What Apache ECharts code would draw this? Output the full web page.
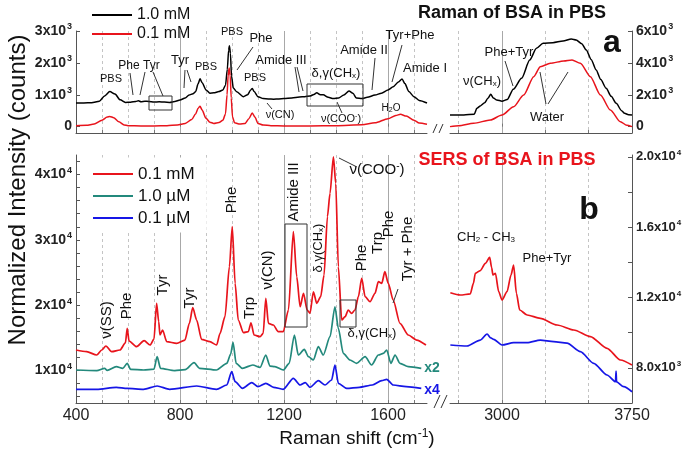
<!DOCTYPE html>
<html><head><meta charset="utf-8">
<script src="https://cdn.jsdelivr.net/npm/echarts@6/dist/echarts.min.js"></script>
<style>html,body{margin:0;padding:0;background:#fff}#c{width:685px;height:452px}</style>
</head><body><div id="c"></div>
<script>
const FONT = '"Liberation Sans", Arial, Helvetica, sans-serif';
const RED = '#e8141c', TEAL = '#23897c', BLUE = '#1616e6', BLACK = '#000';

// ---------- tick / label values ----------
const ticksLowDash = [500,600,700,900,1000,1100,1300,1400,1500,1700];
const ticksLowSolid = [800,1200,1600];
const labelsLow = [400,800,1200,1600];
const ticksHighDash = [2750,3250,3500];
const ticksHighSolid = [3000];
const labelsHigh = [3000,3750];
const yLabelsRamanLow = [0,1000,2000,3000];
const yLabelsRamanHigh = [0,2000,4000,6000];
const yLabelsSersLow = [10000,20000,30000,40000];
const yTicksSersLow = [6000,8000,10000,12000,14000,16000,18000,20000,22000,24000,26000,28000,30000,32000,34000,36000,38000,40000,42000];
const yLabelsSersHigh = [8000,12000,16000,20000];
const yTicksSersHigh = [8000,10000,12000,14000,16000,18000,20000];

// ---------- Raman (a), 400-1750 cm-1 ----------
const ramanLow_1mM = [[400,740],[430,745],[460,750],[490,800],[510,960],[530,1100],[550,1020],[570,840],[590,760],[610,765],[630,790],[640,810],[650,780],[665,800],[680,790],[700,770],[720,780],[740,770],[760,760],[780,790],[800,835],[820,900],[835,990],[850,1030],[860,1095],[870,1350],[877,1500],[885,1380],[900,1150],[915,1050],[930,1060],[950,1100],[965,1150],[975,1300],[982,1800],[987,2400],[990,2540],[994,2300],[998,1600],[1005,1210],[1018,1095],[1044,940],[1060,1000],[1072,1150],[1078,1200],[1085,1100],[1100,940],[1120,880],[1140,870],[1160,860],[1180,870],[1200,880],[1230,900],[1260,930],[1280,940],[1300,960],[1315,1010],[1326,1060],[1340,1000],[1351,1000],[1370,920],[1390,880],[1410,900],[1430,990],[1450,1117],[1465,1050],[1478,900],[1500,880],[1520,920],[1550,990],[1575,1050],[1600,1150],[1620,1250],[1640,1400],[1654,1493],[1665,1350],[1680,1100],[1700,940],[1720,820],[1750,740]];
const ramanLow_01mM = [[400,30],[440,40],[470,80],[500,200],[520,300],[530,320],[545,280],[565,150],[585,50],[600,30],[650,20],[700,20],[750,30],[790,50],[820,100],[845,220],[860,400],[870,580],[877,640],[885,520],[900,260],[915,140],[930,100],[950,130],[965,200],[975,400],[981,1000],[985,1600],[989,1840],[993,1600],[997,900],[1002,300],[1010,120],[1030,80],[1050,100],[1065,250],[1078,430],[1088,300],[1100,100],[1120,50],[1150,30],[1200,20],[1300,20],[1400,30],[1500,60],[1550,120],[1600,250],[1630,350],[1648,386],[1670,330],[1700,200],[1720,110],[1750,73]];
// ---------- Raman (a), 2700-3750 cm-1 ----------
const ramanHigh_1mM = [[2700,730],[2780,735],[2840,780],[2855,1150],[2875,1300],[2900,1500],[2920,1800],[2935,2030],[2950,1800],[2970,1670],[3000,1600],[3030,1700],[3065,2342],[3113,3033],[3160,4181],[3199,4915],[3237,5229],[3294,5266],[3352,5373],[3400,5498],[3428,5436],[3460,5200],[3486,4809],[3515,4200],[3543,3553],[3570,2950],[3601,2405],[3630,1900],[3659,1464],[3690,1000],[3707,836],[3730,750],[3750,730]];
const ramanHigh_01mM = [[2700,0],[2750,60],[2837,209],[2933,416],[3000,730],[3067,1250],[3125,1985],[3183,3133],[3221,3760],[3279,3974],[3356,4118],[3404,4181],[3452,3974],[3510,3133],[3568,1985],[3625,1043],[3683,309],[3720,80],[3750,0]];

// ---------- SERS (b), 400-1750 cm-1 ----------
const sersLow_01mM = [[400,13120],[441,12860],[480,12354],[499,13120],[515,13732],[537,12860],[569,13120],[590,14200],[597,16444],[604,14500],[633,13630],[662,14545],[685,13886],[700,14800],[710,20275],[718,17500],[723,15418],[733,16184],[749,14392],[787,14137],[819,14647],[836,17210],[849,19600],[864,17716],[883,14750],[915,14392],[941,13886],[954,15678],[973,18221],[990,25882],[1001,32010],[1012,23338],[1024,17716],[1044,15780],[1063,15933],[1073,17300],[1085,15418],[1108,15157],[1120,15678],[1130,21040],[1140,17210],[1159,16950],[1178,15923],[1197,15923],[1217,19250],[1236,31244],[1249,24350],[1262,19753],[1275,21806],[1289,19250],[1300,18742],[1313,22050],[1326,20275],[1341,21290],[1354,24610],[1367,33540],[1377,37123],[1390,42730],[1399,38650],[1409,25880],[1422,17716],[1435,18220],[1447,19250],[1460,18742],[1473,19250],[1486,21290],[1499,24100],[1512,21290],[1531,20520],[1550,21806],[1563,23590],[1576,23340],[1588,25115],[1601,23340],[1620,20780],[1646,17210],[1678,15418],[1710,14647],[1746,13886]];
const sersLow_1uM = [[400,10056],[480,9954],[510,10316],[520,10000],[555,10560],[580,10300],[597,11080],[610,10160],[660,10056],[700,10200],[712,12093],[725,10316],[780,9954],[820,10100],[854,11180],[875,10316],[940,10056],[980,11080],[995,12500],[1004,14300],[1016,11080],[1040,10316],[1080,10825],[1108,10460],[1130,12354],[1146,10660],[1165,10560],[1197,10056],[1220,11080],[1240,15418],[1255,12354],[1278,13220],[1294,12093],[1313,11590],[1332,13630],[1351,12354],[1377,15157],[1396,19750],[1409,16440],[1428,12610],[1454,11590],[1479,11080],[1512,12093],[1537,10825],[1563,12354],[1582,12610],[1595,13120],[1611,11080],[1627,12354],[1646,11080],[1678,10560],[1728,10316]];
const sersLow_01uM = [[400,7100],[480,7100],[555,7405],[597,7250],[660,7100],[712,7605],[760,7100],[864,7605],[940,7100],[980,7758],[999,9800],[1012,8270],[1040,7250],[1076,8117],[1100,7510],[1130,8015],[1160,7405],[1197,7100],[1236,8780],[1262,7760],[1282,8117],[1300,7405],[1332,8420],[1358,7760],[1383,8525],[1396,10820],[1409,8015],[1441,7250],[1490,7405],[1540,7760],[1576,8420],[1595,8630],[1620,7760],[1670,7510],[1728,7250]];
// ---------- SERS (b), 2700-3750 cm-1 ----------
const sersHigh_01mM = [[2702,12270],[2760,12140],[2817,12200],[2835,12800],[2846,13373],[2875,13530],[2904,13940],[2929,14280],[2940,13700],[2948,13277],[2962,13370],[2981,12330],[3000,11855],[3029,12330],[3052,13277],[3067,13845],[3083,12235],[3102,11287],[3145,11003],[3221,10815],[3318,10434],[3414,10150],[3510,9770],[3606,9110],[3683,8445],[3750,8160]];
const sersHigh_01uM = [[2702,9297],[2798,9240],[2875,9580],[2914,9923],[2935,9700],[2952,9620],[3000,9297],[3067,9430],[3145,9430],[3221,9580],[3298,9490],[3375,9400],[3452,8918],[3529,8257],[3606,7592],[3655,7210],[3658,7820],[3661,7200],[3702,6927],[3750,6640]];

// ---------- helpers ----------
function supRich(fs, bold, color) {
  const w = bold ? 'bold' : 'normal';
  return {
    a: {fontSize: fs, fontWeight: w, fontFamily: FONT, color: color || '#222'},
    s: {fontSize: Math.round(fs*0.65), fontWeight: w, fontFamily: FONT, color: color || '#222', padding: [0,0,Math.round(fs*0.6),1]}
  };
}
function sciLabel(exp) {
  return v => v === 0 ? '{a|0}' : '{a|' + (v/Math.pow(10,exp)) + 'x10}{s|' + exp + '}';
}
function sciLabel1(v) {
  const e = v < 10000 ? 3 : 4;
  return '{a|' + (v/Math.pow(10,e)).toFixed(1) + 'x10}{s|' + e + '}';
}
function xPair(grid, min, max, dash, solid, labels) {
  const base = {type:'value', gridIndex:grid, min:min, max:max, position:'bottom'};
  return [
    Object.assign({}, base, {
      axisLine:{show:true, onZero:false, lineStyle:{color:'#555', width:1}},
      axisTick:{show:true, inside:true, length:3, customValues:dash, lineStyle:{color:'#777'}},
      axisLabel: labels ? {show:true, customValues:labels, formatter: v => String(v), fontSize:16, color:'#222', fontFamily:FONT, margin:5} : {show:false},
      splitLine:{show:true, lineStyle:{type:[3,3], color:'#c4c4c4', width:1}}
    }),
    Object.assign({}, base, {
      axisLine:{show:false},
      axisTick:{show:true, inside:true, length:3, customValues:solid, lineStyle:{color:'#777'}},
      axisLabel:{show:false},
      splitLine:{show:true, lineStyle:{type:'solid', color:'#a8a8a8', width:1}}
    })
  ];
}
function yAx(grid, min, max, pos, ticks, labels, fmt, fs) {
  return {type:'value', gridIndex:grid, min:min, max:max, position:pos,
    axisLine:{show:true, onZero:false, lineStyle:{color:'#555', width:1}},
    axisTick:{show:true, inside:true, length:4, customValues:ticks, lineStyle:{color:'#555'}},
    axisLabel:{show:true, customValues:labels, formatter:fmt, rich:supRich(fs,true), margin:4},
    splitLine:{show:false}};
}
function line(name, data, xi, yi, color, w) {
  return {type:'line', name:name, data:data, xAxisIndex:xi, yAxisIndex:yi, showSymbol:false, symbol:'none',
    smooth:0.25, smoothMonotone:'x', lineStyle:{color:color, width:w||1.5}, itemStyle:{color:color}, z:3, silent:true};
}

// annotation rich styles
function tRich(fs, color) {
  const c = color || '#111';
  return {
    p: {fontSize: Math.round(fs*0.65), fontFamily: FONT, fill: c, padding:[0,0,Math.round(fs*0.55),0]},
    b: {fontSize: Math.round(fs*0.65), fontFamily: FONT, fill: c, padding:[Math.round(fs*0.45),0,0,0]}
  };
}
function T(x, y, text, fs, opt) {
  opt = opt || {};
  return {type:'text', x:x, y:y, rotation: opt.rot ? Math.PI/2 : 0, silent:true, z:100,
    style:{text:text, x:0, y:0, align:'center', verticalAlign:'middle', fontSize:fs, fontFamily:FONT,
      fontWeight: opt.bold ? 'bold' : 'normal', fill: opt.color || '#111', rich: tRich(fs, opt.color)}};
}
function L(x1,y1,x2,y2) {
  return {type:'line', silent:true, z:100, shape:{x1:x1,y1:y1,x2:x2,y2:y2}, style:{stroke:'#333', lineWidth:1}};
}
function R(x,y,w,h) {
  return {type:'rect', silent:true, z:100, shape:{x:x,y:y,width:w,height:h}, style:{fill:'none', stroke:'#333', lineWidth:1}};
}

const graphics = [
  // titles & panel letters
  T(512, 13, 'Raman of BSA in PBS', 18, {bold:true}),
  T(507, 160, 'SERS of BSA in PBS', 18, {bold:true, color:'#e8141c'}),
  T(612, 43, 'a', 32, {bold:true}),
  T(589, 210, 'b', 32, {bold:true}),
  // axis titles
  T(18, 190, 'Normalized Intensity (counts)', 24, {rot:true, color:'#111'}),
  T(357, 439, 'Raman shift (cm{p|-1})', 19),
  // panel a annotations
  T(111, 79, 'PBS', 11), T(139, 66, 'Phe Tyr', 12), T(180, 60, 'Tyr', 13), T(206, 67, 'PBS', 11),
  T(232, 32, 'PBS', 11), T(261, 38, 'Phe', 13), T(255, 78, 'PBS', 11), T(281, 60, 'Amide III', 13),
  T(280, 115, 'ν(CN)', 11), T(336, 73, 'δ,γ(CH{b|x})', 13), T(341, 119, 'ν(COO{p|-})', 11),
  T(364, 50, 'Amide II', 13), T(410, 35, 'Tyr+Phe', 13), T(425, 68, 'Amide I', 13), T(391, 108, 'H{b|2}O', 10),
  T(509, 52, 'Phe+Tyr', 13), T(482, 81, 'ν(CH{b|x})', 13), T(547, 117, 'Water', 13),
  L(130,73,133,95), L(145,72,140,95), L(153,72,163,96), L(185,70,184,88), L(187,70,191,82),
  L(253,47,237,70), L(295,67,299,92), L(297,67,303,91), L(267,103,272,109), L(337,102,342,113),
  L(375,58,372,90), L(402,45,392,82), L(505,61,513,86), L(546,104,540,72), L(548,104,568,72),
  R(149,96,23,14), R(307,84,56,22),
  // panel b annotations
  T(486, 237, 'CH{b|2} - CH{b|3}', 13), T(547, 258, 'Phe+Tyr', 13),
  T(107, 320, 'ν(SS)', 15, {rot:true}), T(127, 306, 'Phe', 15, {rot:true}), T(163, 285, 'Tyr', 15, {rot:true}),
  T(190, 298, 'Tyr', 15, {rot:true}), T(232, 200, 'Phe', 15, {rot:true}), T(250, 308, 'Trp', 15, {rot:true}),
  T(268, 270, 'ν(CN)', 15, {rot:true}), T(294, 192, 'Amide III', 15, {rot:true}), T(318, 248, 'δ,γ(CH{b|x})', 13, {rot:true}),
  T(362, 258, 'Phe', 15, {rot:true}), T(378, 243, 'Trp', 15, {rot:true}), T(389, 224, 'Phe', 15, {rot:true}),
  T(408, 249, 'Tyr + Phe', 15, {rot:true}),
  T(377, 170, 'ν(COO{p|-})', 15), T(372, 333, 'δ,γ(CH{b|x})', 13),
  T(432, 368, 'x2', 14, {bold:true, color:TEAL}), T(432, 390, 'x4', 14, {bold:true, color:BLUE}),
  L(339,158,357,167), L(398,289,393,303),
  R(285,224,22,103), R(340,300,16,27),
  // axis breaks
  L(433,133,437,124), L(439,133,443,124),
  L(434,408,440,395), L(441,408,447,395)
];

const chart = echarts.init(document.getElementById('c'), null, {renderer:'canvas'});
chart.setOption({
  animation:false,
  backgroundColor:'#fff',
  textStyle:{fontFamily:FONT},
  grid:[
    {left:76, top:31, width:351, height:102, outerBoundsMode:'none'},
    {left:450, top:31, width:182, height:102, outerBoundsMode:'none'},
    {left:76, top:155, width:351, height:248, outerBoundsMode:'none'},
    {left:450, top:155, width:182, height:248, outerBoundsMode:'none'}
  ],
  xAxis: [].concat(
    xPair(0, 400, 1750, ticksLowDash, ticksLowSolid, null),
    xPair(1, 2700, 3750, ticksHighDash, ticksHighSolid, null),
    xPair(2, 400, 1750, ticksLowDash, ticksLowSolid, labelsLow),
    xPair(3, 2700, 3750, ticksHighDash, ticksHighSolid, labelsHigh)
  ),
  yAxis: [
    yAx(0, -200, 3000, 'left', yLabelsRamanLow, yLabelsRamanLow, sciLabel(3), 14),
    yAx(1, -400, 6000, 'right', yLabelsRamanHigh, yLabelsRamanHigh, sciLabel(3), 14),
    yAx(2, 5000, 43000, 'left', yTicksSersLow, yLabelsSersLow, sciLabel(4), 14),
    yAx(3, 6000, 20100, 'right', yTicksSersHigh, yLabelsSersHigh, sciLabel1, 13)
  ],
  legend:[
    {data:['1.0 mM','0.1 mM'], orient:'vertical', left:80, top:7, padding:[0,0,0,12], itemGap:3,
     icon:'rect', itemWidth:40, itemHeight:2, selectedMode:false,
     textStyle:{fontSize:16, lineHeight:16, color:'#111', fontFamily:FONT}},
    {data:['0.1 mM','1.0 µM','0.1 µM'], orient:'vertical', left:81, top:157.5, padding:[8,12,6,12], itemGap:5,
     icon:'rect', itemWidth:40, itemHeight:2, selectedMode:false, backgroundColor:'#fff',
     textStyle:{fontSize:17, lineHeight:17, color:'#111', fontFamily:FONT}}
  ],
  series:[
    line('1.0 mM', ramanLow_1mM, 0, 0, BLACK),
    line('0.1 mM', ramanLow_01mM, 0, 0, RED),
    line('1.0 mM', ramanHigh_1mM, 2, 1, BLACK),
    line('0.1 mM', ramanHigh_01mM, 2, 1, RED),
    line('0.1 mM', sersLow_01mM, 4, 2, RED, 1.7),
    line('1.0 µM', sersLow_1uM, 4, 2, TEAL, 1.7),
    line('0.1 µM', sersLow_01uM, 4, 2, BLUE, 1.7),
    line('0.1 mM', sersHigh_01mM, 6, 3, RED, 1.7),
    line('0.1 µM', sersHigh_01uM, 6, 3, BLUE, 1.7)
  ],
  graphic: graphics
});
</script></body></html>
